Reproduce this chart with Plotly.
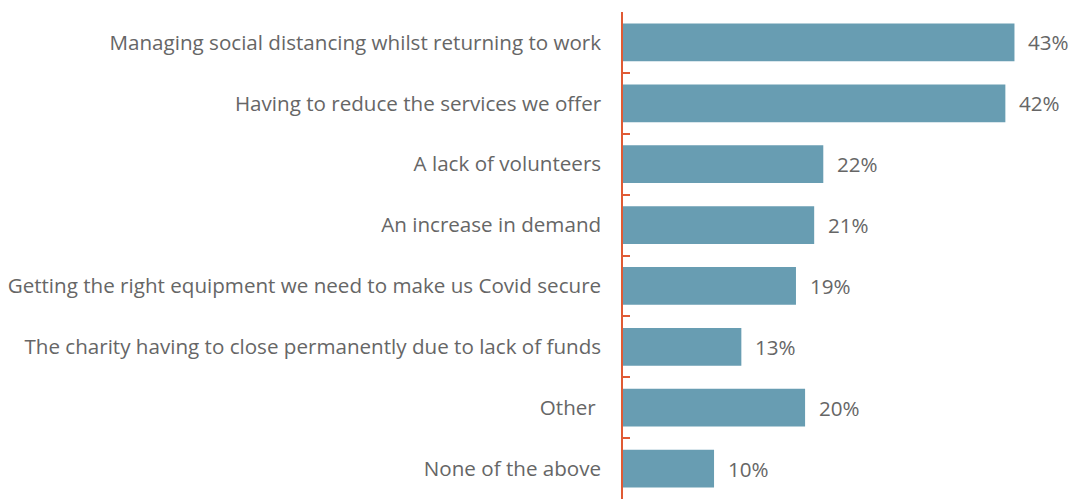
import plotly.graph_objects as go

categories = [
    "Managing social distancing whilst returning to work",
    "Having to reduce the services we offer",
    "A lack of volunteers",
    "An increase in demand",
    "Getting the right equipment we need to make us Covid secure",
    "The charity having to close permanently due to lack of funds",
    "Other ",
    "None of the above",
]
values = [43, 42, 22, 21, 19, 13, 20, 10]
value_labels = [f"{v}%" for v in values]

bar_color = "#689DB2"
axis_color = "#E05A34"
text_color = "#666666"

fig = go.Figure()

fig.add_trace(go.Bar(
    x=values,
    y=categories,
    orientation="h",
    marker=dict(color=bar_color, line=dict(width=0)),
    width=0.62,
    hoverinfo="skip",
))

for v, c, lab in zip(values, categories, value_labels):
    fig.add_annotation(
        x=v, y=c, text=lab,
        xanchor="left", yanchor="middle",
        xshift=12, showarrow=False,
        font=dict(family="Open Sans", size=20.6, color=text_color),
    )

fig.update_xaxes(
    range=[0, 49.1],
    visible=False,
)
fig.update_yaxes(
    autorange=False,
    range=[7.5, -0.5],
    showline=True,
    linecolor=axis_color,
    linewidth=1.5,
    ticks="inside",
    tickson="boundaries",
    ticklen=7,
    tickcolor=axis_color,
    tickwidth=1.5,
    ticklabelstandoff=16,
    showgrid=False,
    tickfont=dict(family="Open Sans", size=20.6, color=text_color),
)

fig.update_layout(
    width=1070,
    height=499,
    margin=dict(l=623, r=0, t=12, b=0),
    plot_bgcolor="white",
    paper_bgcolor="white",
    showlegend=False,
)

# drop the default body margin so the figure sits at the page corner
fig.write_html(
    "out.html",
    config={"displayModeBar": False},
    post_script="document.body.style.margin='0';",
)
